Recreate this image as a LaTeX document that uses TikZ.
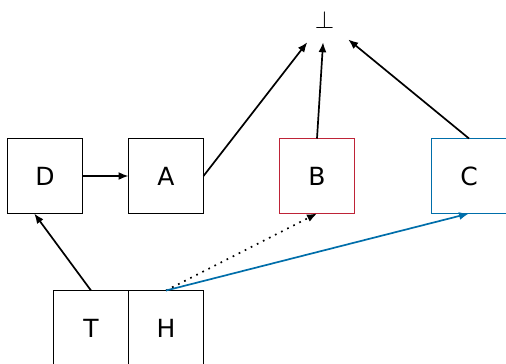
\documentclass[tikz,border=0pt]{standalone}
\usepackage{fontspec}
\setmainfont{DejaVu Sans}
\usetikzlibrary{arrows.meta, positioning}
\definecolor{bred}{RGB}{190,35,55}
\definecolor{cblue}{RGB}{0,110,170}

\begin{document}
\begin{tikzpicture}[
    x=1pt, y=1pt,
    >={Latex[length=10pt, width=8pt]},
    every node/.style={font=\fontsize{25}{30}\selectfont},
    box/.style ={draw, line width=1.9pt, minimum size=75pt, inner sep=0pt,
                 outer sep=0pt},
    redbox/.style ={box, draw=bred},
    bluebox/.style={box, draw=cblue},
    bot/.style ={minimum width=47pt, minimum height=44pt, inner sep=0pt},
    flow/.style={->, line width=1.7pt},
    weak/.style={->, line width=1.7pt, dash pattern=on 1.7pt off 5.1pt},
    hflow/.style={->, line width=1.7pt, cblue},
]
\useasboundingbox (0,0) rectangle (506,-364);
\node[box] (D) at (45,-176) {D};
\node[box,      right=46pt of D] (A) {A};
\node[redbox,   right=76pt of A] (B) {B};
\node[bluebox,  right=77pt of B] (C) {C};
\node[bot] (bot) at (324.5,-20) {$\bot$};
\node[box] (T) at (91,-328) {T};
\node[box,      right=0pt of T]  (H) {H};
\draw[flow] (D)       -- (A);
\draw[flow] (A.east)  -- (bot);
\draw[flow] (B.north) -- (bot);
\draw[flow] (C.north) -- (bot);
\draw[flow] (T.north) -- (D.254);
% from H to the coloured boxes
\draw[weak]  (H.north) -- (B.south);
\draw[hflow] (H.north) -- (C.south);
\end{tikzpicture}
\end{document}
